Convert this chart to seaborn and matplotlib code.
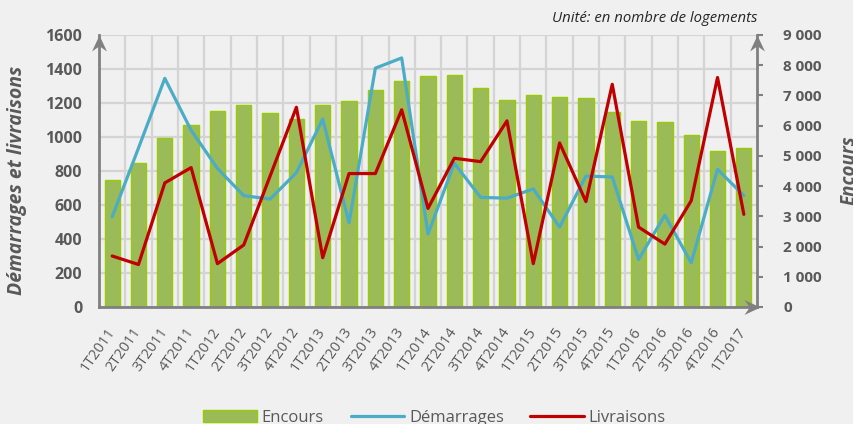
import numpy as np
import pandas as pd
import matplotlib
matplotlib.use("Agg")
import matplotlib.pyplot as plt
import seaborn as sns
from matplotlib.ticker import FuncFormatter
from matplotlib.patches import Patch
from matplotlib.lines import Line2D
from matplotlib.path import Path

# ---------------- data ----------------
categories = ['1T2011', '2T2011', '3T2011', '4T2011',
              '1T2012', '2T2012', '3T2012', '4T2012',
              '1T2013', '2T2013', '3T2013', '4T2013',
              '1T2014', '2T2014', '3T2014', '4T2014',
              '1T2015', '2T2015', '3T2015', '4T2015',
              '1T2016', '2T2016', '3T2016', '4T2016',
              '1T2017']
encours = [4200, 4750, 5580, 6010, 6480, 6680, 6410, 6210, 6680, 6810,
           7170, 7470, 7640, 7670, 7240, 6840, 7010, 6940, 6910, 6440,
           6140, 6110, 5680, 5150, 5250]
demarrages = [530, 935, 1345, 1040, 815, 655, 635, 790, 1105, 495,
              1405, 1465, 430, 845, 645, 640, 695, 470, 770, 765,
              280, 540, 260, 810, 655]
livraisons = [300, 250, 730, 820, 255, 365, 770, 1175, 290, 785,
              785, 1160, 580, 875, 855, 1095, 255, 965, 620, 1310,
              470, 370, 625, 1350, 545]
left_ticks = [0, 200, 400, 600, 800, 1000, 1200, 1400, 1600]
right_ticks = [0, 1000, 2000, 3000, 4000, 5000, 6000, 7000, 8000, 9000]

df = pd.DataFrame({
    'trimestre': categories,
    'idx': np.arange(len(categories)),
    'Encours': encours,
    'Démarrages': demarrages,
    'Livraisons': livraisons,
})

# ---------------- style ----------------
sns.set_style("white")
plt.rcParams['font.family'] = ['Open Sans', 'DejaVu Sans']
BG = '#f0f0f0'
TXT = '#595959'
AX = '#808080'
GRID = '#d4d4d4'
GREEN = '#9bbb59'
GREEN_EDGE = '#99cc00'
BLUE = '#4bacc6'
RED = '#c00000'

fig = plt.figure(figsize=(8.54, 4.24), dpi=100, facecolor=BG)
# background + grid axes (lowest layer)
rect = [99/854, 1-307/424, (757-99)/854, (307-35)/424]
axg = fig.add_axes(rect, zorder=0)
axb = fig.add_axes(rect, zorder=1)
axl = fig.add_axes(rect, zorder=2, sharex=axb)
axg.set_facecolor(BG)
axb.patch.set_visible(False)
axl.patch.set_visible(False)

n = len(categories)

# bars (Encours) on right scale
sns.barplot(data=df, x='trimestre', y='Encours', ax=axb, color=GREEN,
            edgecolor=GREEN_EDGE, linewidth=1, width=0.58, saturation=1,
            errorbar=None)
# lines on left scale
sns.lineplot(data=df, x='idx', y='Démarrages', ax=axl, color=BLUE, lw=2.3)
sns.lineplot(data=df, x='idx', y='Livraisons', ax=axl, color=RED, lw=2.3)
for a in (axb, axl):
    if a.get_legend() is not None:
        a.get_legend().remove()

axb.set_xlim(-0.5, n - 0.5)
axb.set_ylim(0, right_ticks[-1])
axl.set_ylim(0, left_ticks[-1])

# grid on the background axes, on the left-axis scale
axg.set_xlim(-0.5, n - 0.5)
axg.set_ylim(0, left_ticks[-1])
for t in left_ticks:
    axg.axhline(t, color=GRID, lw=1.6)
for b in np.arange(n - 1) + 0.5:
    axg.axvline(b, color=GRID, lw=1.6)
axg.set_xticks([])
axg.set_yticks([])
for s in axg.spines.values():
    s.set_visible(False)

# axes sides
axb.yaxis.tick_right()
axb.yaxis.set_label_position('right')
axl.yaxis.tick_left()
axl.yaxis.set_label_position('left')
axl.xaxis.set_visible(False)

axb.set_yticks(right_ticks)
axb.yaxis.set_major_formatter(FuncFormatter(lambda v, p: f"{int(v):,}".replace(",", " ")))
axl.set_yticks(left_ticks)
axb.grid(False)
axl.grid(False)

axb.set_xticks(np.arange(n))
axb.set_xticklabels(categories, rotation=55, ha='right', va='center',
                    rotation_mode='anchor', fontsize=10.5, color=TXT)
axb.tick_params(axis='x', which='major', length=0, pad=16)
axb.tick_params(axis='y', which='major', length=4, width=1.5, color=AX,
                pad=15, labelsize=11, labelcolor=TXT)
axl.tick_params(axis='y', length=0, pad=12, labelsize=11.5, labelcolor=TXT)
for lab in axb.get_yticklabels() + axl.get_yticklabels():
    lab.set_fontweight('bold')

for a in (axb, axl):
    a.set_xlabel('')
    a.set_ylabel('')
    for s in a.spines.values():
        s.set_visible(False)
for s in ('left', 'right', 'bottom'):
    axl.spines[s].set_visible(True)
    axl.spines[s].set_color(AX)
    axl.spines[s].set_linewidth(2)

# stealth arrowheads
def head(verts):
    codes = [Path.MOVETO, Path.LINETO, Path.LINETO, Path.LINETO, Path.CLOSEPOLY]
    return Path(verts + [verts[0]], codes)

up = head([(0, 0), (0.5, -1.07), (0, -0.72), (-0.5, -1.07)])
right = head([(0, 0), (-1.07, 0.5), (-0.72, 0), (-1.07, -0.5)])
for xy, m in (((0, 1.0), up), ((1, 1.0), up), ((1.005, 0), right)):
    axl.plot([xy[0]], [xy[1]], transform=axl.transAxes, marker=m, ms=23,
             color=AX, mew=0, clip_on=False, zorder=5)

# texts
fig.text(17/854, 1-180/424, 'Démarrages et livraisons', rotation=90,
         ha='center', va='center', fontsize=14, fontweight='bold',
         style='italic', color=TXT)
fig.text(850/854, 1-170/424, 'Encours', rotation=90, ha='center',
         va='center', fontsize=13.5, fontweight='bold', style='italic',
         color=TXT)
fig.text(757/854, 1-18/424, 'Unité: en nombre de logements', ha='right',
         va='center', fontsize=10.7, style='italic', color='#262626')

handles = [Patch(facecolor=GREEN, edgecolor=GREEN_EDGE, lw=1),
           Line2D([], [], color=BLUE, lw=2.3),
           Line2D([], [], color=RED, lw=2.3)]
fig.legend(handles, ['Encours', 'Démarrages', 'Livraisons'], loc='center',
           bbox_to_anchor=(0.509, 1-418/424), ncol=3, frameon=False,
           fontsize=12, labelcolor=TXT, handlelength=3.2, handleheight=0.7,
           handletextpad=0.3, columnspacing=1.6)

fig.savefig('out.png', dpi=100, facecolor=BG)
